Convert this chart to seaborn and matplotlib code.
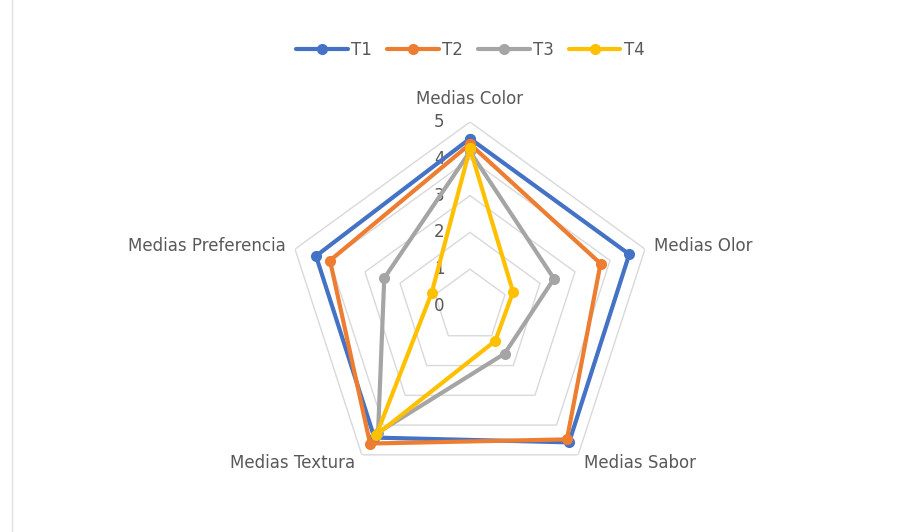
import numpy as np
import pandas as pd
import matplotlib
matplotlib.use("Agg")
import matplotlib.pyplot as plt
from matplotlib.lines import Line2D
import seaborn as sns

categories = ["Medias Color", "Medias Olor", "Medias Sabor", "Medias Textura", "Medias Preferencia"]
series_names = ["T1", "T2", "T3", "T4"]
t1 = [4.55, 4.55, 4.58, 4.42, 4.40]
t2 = [4.40, 3.73, 4.48, 4.62, 4.00]
t3 = [4.20, 2.40, 1.60, 4.25, 2.45]
t4 = [4.28, 1.23, 1.17, 4.33, 1.10]
levels = [0, 1, 2, 3, 4, 5]
colors = ["#4472C4", "#ED7D31", "#A5A5A5", "#FFC000"]

sns.set_theme(style="white")
plt.rcParams["font.family"] = ["DejaVu Sans"]

n = len(categories)
angles = [2 * np.pi * i / n for i in range(n)]
closed_angles = angles + [angles[0]]

rows = []
for name, vals in zip(series_names, [t1, t2, t3, t4]):
    for a, v in zip(closed_angles, vals + [vals[0]]):
        rows.append({"serie": name, "theta": a, "valor": v})
df = pd.DataFrame(rows)

fig = plt.figure(figsize=(9.15, 5.32), dpi=100)
cx, cy = 470 / 915, 1 - 306 / 532
rw, rh = 184 / 915, 184 / 532
ax = fig.add_axes([cx - rw, cy - rh, 2 * rw, 2 * rh], projection="polar")
ax.set_theta_offset(np.pi / 2)
ax.set_theta_direction(-1)
ax.set_ylim(0, 5)
ax.grid(False)
ax.spines["polar"].set_visible(False)
ax.set_xticks([])
ax.set_yticks([])
ax.set_facecolor("none")

# pentagon grid
for lv in levels[1:]:
    ax.plot(closed_angles, [lv] * (n + 1), color="#D9D9D9", lw=1.0, zorder=1)

sns.lineplot(data=df, x="theta", y="valor", hue="serie", sort=False, estimator=None,
             palette=colors, marker="o", markersize=8, markeredgewidth=0,
             linewidth=3.0, ax=ax, legend=False, zorder=3)
ax.set_xlabel("")
ax.set_ylabel("")

# level labels
for lv in levels:
    ax.annotate(str(lv), xy=(0, lv), xytext=(-22, 0), textcoords="offset points",
                ha="center", va="center", fontsize=12, color="#595959", zorder=2)

# category labels
label_specs = [
    (5.63, "center", "center"),
    (5.27, "left", "center"),
    (5.29, "left", "center"),
    (5.29, "right", "center"),
    (5.27, "right", "center"),
]
for a, cat, (r, ha, va) in zip(angles, categories, label_specs):
    ax.text(a, r, cat, ha=ha, va=va, fontsize=12, color="#595959", clip_on=False)

handles = [Line2D([0], [0], color=c, lw=3.0, marker="o", markersize=8, markeredgewidth=0)
           for c in colors]
fig.legend(handles, series_names, loc="center", bbox_to_anchor=(0.514, 1 - 50 / 532),
           ncol=4, frameon=False, fontsize=12, handlelength=3.1, columnspacing=0.9,
           handletextpad=0.2, labelcolor="#595959")

fig.add_artist(Line2D([12 / 915, 12 / 915], [0, 1], color="#E0E0E0", lw=1))

fig.savefig("out.png", dpi=100, facecolor="white")
